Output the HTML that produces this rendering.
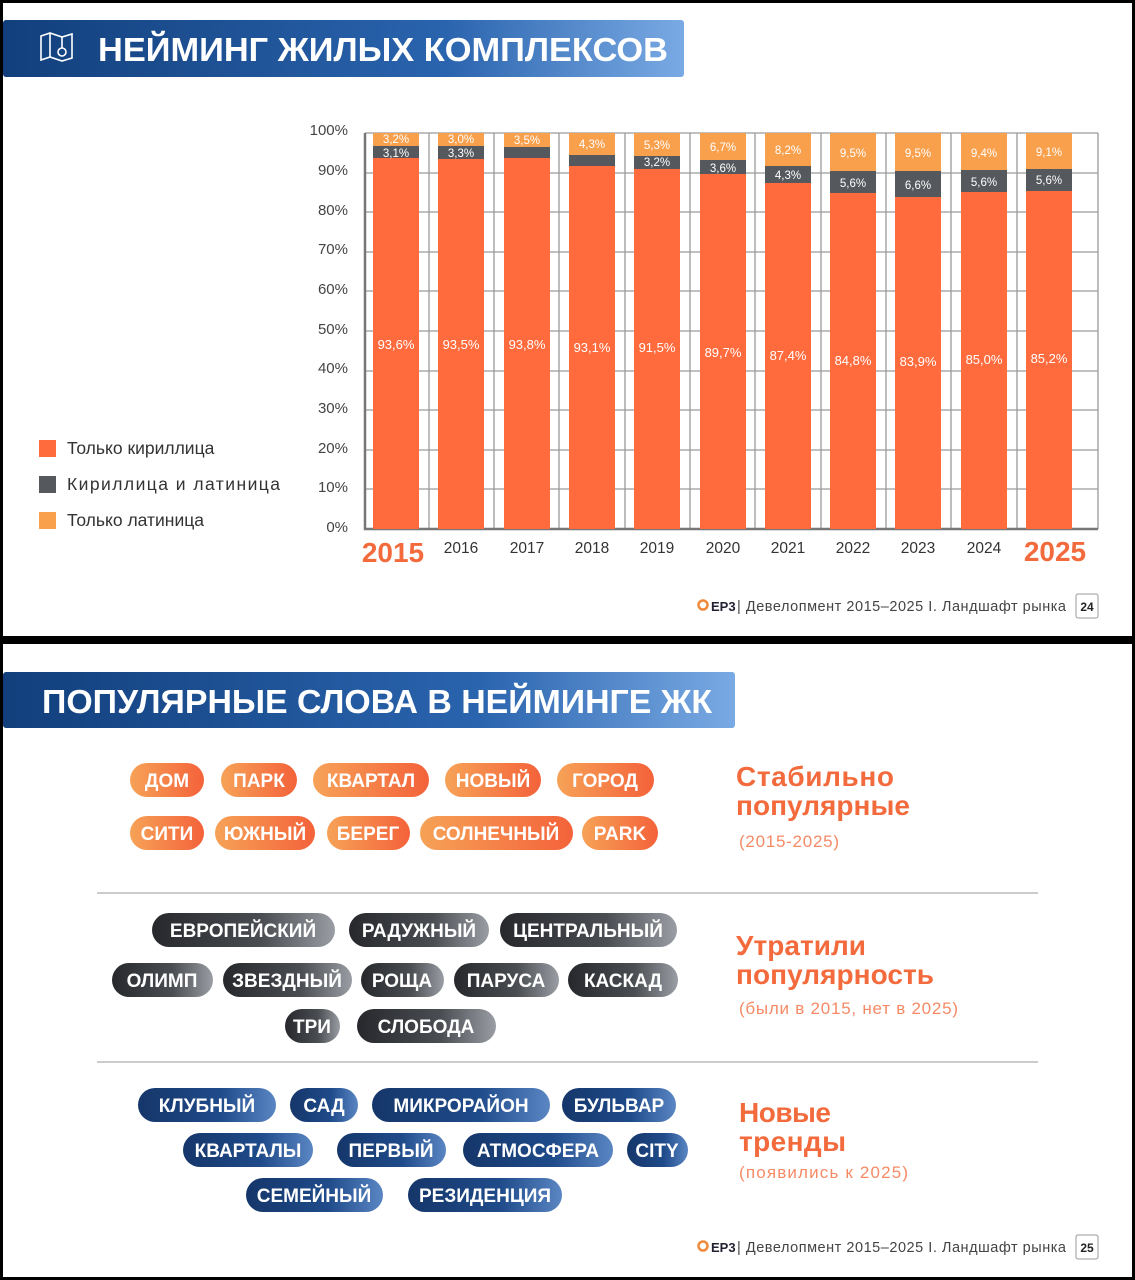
<!DOCTYPE html><html><head><meta charset="utf-8"><style>
html,body{margin:0;padding:0;background:#000}
svg{display:block}
text{font-family:"Liberation Sans",sans-serif}
</style></head><body>
<svg width="1135" height="1280" viewBox="0 0 1135 1280" xmlns="http://www.w3.org/2000/svg">
<defs>
<linearGradient id="tb" x1="0" x2="1" y1="0" y2="0"><stop offset="0" stop-color="#123f7c"/><stop offset="0.65" stop-color="#2a64ae"/><stop offset="1" stop-color="#7aaae4"/></linearGradient>
<linearGradient id="go" x1="0" x2="1"><stop offset="0" stop-color="#f6a257"/><stop offset="1" stop-color="#f4623a"/></linearGradient>
<linearGradient id="gg" x1="0" x2="1"><stop offset="0" stop-color="#26282c"/><stop offset="0.6" stop-color="#4a4d52"/><stop offset="1" stop-color="#9a9ea4"/></linearGradient>
<linearGradient id="gb" x1="0" x2="1"><stop offset="0" stop-color="#15366a"/><stop offset="0.6" stop-color="#1f4b8a"/><stop offset="1" stop-color="#5a86c4"/></linearGradient>
</defs>
<rect x="3" y="3" width="1129" height="633" fill="#fff"/>
<rect x="3" y="644" width="1129" height="633" fill="#fff"/>
<rect x="3" y="20" width="681" height="57" rx="3" fill="url(#tb)"/>
<g stroke="#fff" stroke-width="1.6" fill="none"><path d="M41 36 L50 33 L62 37 L72 34 L72 58 L62 61 L50 57 L41 60 Z"/><path d="M50 33 V57 M62 37 V48"/><circle cx="62" cy="52" r="4"/></g>
<text x="98" y="61" font-size="33" font-weight="bold" fill="#fff" textLength="570" lengthAdjust="spacingAndGlyphs">НЕЙМИНГ ЖИЛЫХ КОМПЛЕКСОВ</text>
<g stroke="#9a9a9a" stroke-width="1.3">
<line x1="365" x2="1098" y1="133" y2="133"/><line x1="365" x2="1098" y1="173" y2="173"/><line x1="365" x2="1098" y1="212" y2="212"/><line x1="365" x2="1098" y1="252" y2="252"/><line x1="365" x2="1098" y1="291" y2="291"/><line x1="365" x2="1098" y1="331" y2="331"/><line x1="365" x2="1098" y1="371" y2="371"/><line x1="365" x2="1098" y1="410" y2="410"/><line x1="365" x2="1098" y1="450" y2="450"/><line x1="365" x2="1098" y1="489" y2="489"/>
<line x1="429" x2="429" y1="133" y2="529"/><line x1="494" x2="494" y1="133" y2="529"/><line x1="559" x2="559" y1="133" y2="529"/><line x1="625" x2="625" y1="133" y2="529"/><line x1="690" x2="690" y1="133" y2="529"/><line x1="755" x2="755" y1="133" y2="529"/><line x1="821" x2="821" y1="133" y2="529"/><line x1="886" x2="886" y1="133" y2="529"/><line x1="951" x2="951" y1="133" y2="529"/><line x1="1017" x2="1017" y1="133" y2="529"/><line x1="1098" x2="1098" y1="133" y2="529"/>
</g>
<path d="M365 133 V529 H1098" stroke="#777" stroke-width="2.5" fill="none"/>
<g font-size="15" fill="#444" text-anchor="end">
<text x="348" y="135">100%</text><text x="348" y="175">90%</text><text x="348" y="215">80%</text><text x="348" y="254">70%</text><text x="348" y="294">60%</text><text x="348" y="334">50%</text><text x="348" y="373">40%</text><text x="348" y="413">30%</text><text x="348" y="453">20%</text><text x="348" y="492">10%</text><text x="348" y="532">0%</text>
</g>
<g>
<rect x="373" y="133" width="46" height="396" fill="#f9a04d"/><rect x="373" y="146" width="46" height="13" fill="#55585d"/><rect x="373" y="158" width="46" height="371" fill="#ff6b3d"/>
<rect x="438" y="133" width="46" height="396" fill="#f9a04d"/><rect x="438" y="146" width="46" height="13" fill="#55585d"/><rect x="438" y="159" width="46" height="370" fill="#ff6b3d"/>
<rect x="504" y="133" width="46" height="396" fill="#f9a04d"/><rect x="504" y="147" width="46" height="11" fill="#55585d"/><rect x="504" y="158" width="46" height="371" fill="#ff6b3d"/>
<rect x="569" y="133" width="46" height="396" fill="#f9a04d"/><rect x="569" y="155" width="46" height="11" fill="#55585d"/><rect x="569" y="166" width="46" height="363" fill="#ff6b3d"/>
<rect x="634" y="133" width="46" height="396" fill="#f9a04d"/><rect x="634" y="156" width="46" height="13" fill="#55585d"/><rect x="634" y="169" width="46" height="360" fill="#ff6b3d"/>
<rect x="700" y="133" width="46" height="396" fill="#f9a04d"/><rect x="700" y="160" width="46" height="15" fill="#55585d"/><rect x="700" y="174" width="46" height="355" fill="#ff6b3d"/>
<rect x="765" y="133" width="46" height="396" fill="#f9a04d"/><rect x="765" y="166" width="46" height="17" fill="#55585d"/><rect x="765" y="183" width="46" height="346" fill="#ff6b3d"/>
<rect x="830" y="133" width="46" height="396" fill="#f9a04d"/><rect x="830" y="171" width="46" height="22" fill="#55585d"/><rect x="830" y="193" width="46" height="336" fill="#ff6b3d"/>
<rect x="895" y="133" width="46" height="396" fill="#f9a04d"/><rect x="895" y="171" width="46" height="26" fill="#55585d"/><rect x="895" y="197" width="46" height="332" fill="#ff6b3d"/>
<rect x="961" y="133" width="46" height="396" fill="#f9a04d"/><rect x="961" y="170" width="46" height="22" fill="#55585d"/><rect x="961" y="192" width="46" height="337" fill="#ff6b3d"/>
<rect x="1026" y="133" width="46" height="396" fill="#f9a04d"/><rect x="1026" y="169" width="46" height="22" fill="#55585d"/><rect x="1026" y="191" width="46" height="338" fill="#ff6b3d"/>
</g>
<g font-size="11.5" fill="#fff" text-anchor="middle">
<text x="396" y="143">3,2%</text><text x="461" y="143">3,0%</text><text x="527" y="144">3,5%</text><text x="592" y="148">4,3%</text><text x="657" y="149">5,3%</text><text x="723" y="151">6,7%</text><text x="788" y="154">8,2%</text><text x="853" y="157">9,5%</text><text x="918" y="157">9,5%</text><text x="984" y="157">9,4%</text><text x="1049" y="156">9,1%</text>
<text x="396" y="157">3,1%</text><text x="461" y="157">3,3%</text><text x="657" y="166">3,2%</text><text x="723" y="172">3,6%</text><text x="788" y="179">4,3%</text><text x="853" y="187">5,6%</text><text x="918" y="189">6,6%</text><text x="984" y="186">5,6%</text><text x="1049" y="184">5,6%</text>
<g font-size="13"><text x="396" y="349">93,6%</text><text x="461" y="349">93,5%</text><text x="527" y="349">93,8%</text><text x="592" y="352">93,1%</text><text x="657" y="352">91,5%</text><text x="723" y="357">89,7%</text><text x="788" y="360">87,4%</text><text x="853" y="365">84,8%</text><text x="918" y="366">83,9%</text><text x="984" y="364">85,0%</text><text x="1049" y="363">85,2%</text></g>
</g>
<g font-size="15.5" fill="#333" text-anchor="middle">
<text x="461" y="553">2016</text><text x="527" y="553">2017</text><text x="592" y="553">2018</text><text x="657" y="553">2019</text><text x="723" y="553">2020</text><text x="788" y="553">2021</text><text x="853" y="553">2022</text><text x="918" y="553">2023</text><text x="984" y="553">2024</text>
</g>
<text x="393" y="562" font-size="28" font-weight="bold" fill="#f36b3d" text-anchor="middle">2015</text>
<text x="1055" y="561" font-size="28" font-weight="bold" fill="#f36b3d" text-anchor="middle">2025</text>
<rect x="39" y="440" width="17" height="17" fill="#ff6b3d"/><rect x="39" y="476" width="17" height="17" fill="#55585d"/><rect x="39" y="512" width="17" height="17" fill="#f9a04d"/>
<g font-size="17.5" fill="#333"><text x="67" y="454">Только кириллица</text><text x="67" y="490" textLength="213">Кириллица и латиница</text><text x="67" y="526">Только латиница</text></g>
<circle cx="703" cy="605" r="4.5" fill="none" stroke="#f08a3c" stroke-width="2.5"/>
<text x="711" y="611" font-size="13" font-weight="bold" fill="#223">ЕР3</text>
<text x="737" y="611" font-size="14.5" fill="#444" textLength="329">| Девелопмент 2015–2025 І. Ландшафт рынка</text>
<rect x="1076" y="594" width="22" height="24" rx="2" fill="#fff" stroke="#999"/>
<text x="1087" y="611" font-size="12" font-weight="bold" fill="#222" text-anchor="middle">24</text>
<rect x="3" y="672" width="732" height="56" rx="3" fill="url(#tb)"/>
<text x="42" y="713" font-size="33" font-weight="bold" fill="#fff" textLength="670" lengthAdjust="spacingAndGlyphs">ПОПУЛЯРНЫЕ СЛОВА В НЕЙМИНГЕ ЖК</text>
<g font-size="19" font-weight="bold" fill="#fff" text-anchor="middle">
<g>
<rect x="130" y="763" width="74" height="34" rx="17" fill="url(#go)"/><text x="167" y="787">ДОМ</text>
<rect x="221" y="763" width="76" height="34" rx="17" fill="url(#go)"/><text x="259" y="787">ПАРК</text>
<rect x="313" y="763" width="116" height="34" rx="17" fill="url(#go)"/><text x="371" y="787">КВАРТАЛ</text>
<rect x="445" y="763" width="96" height="34" rx="17" fill="url(#go)"/><text x="493" y="787">НОВЫЙ</text>
<rect x="557" y="763" width="97" height="34" rx="17" fill="url(#go)"/><text x="605" y="787">ГОРОД</text>
<rect x="130" y="816" width="74" height="34" rx="17" fill="url(#go)"/><text x="167" y="840">СИТИ</text>
<rect x="215" y="816" width="100" height="34" rx="17" fill="url(#go)"/><text x="265" y="840">ЮЖНЫЙ</text>
<rect x="327" y="816" width="83" height="34" rx="17" fill="url(#go)"/><text x="368" y="840">БЕРЕГ</text>
<rect x="420" y="816" width="153" height="34" rx="17" fill="url(#go)"/><text x="496" y="840">СОЛНЕЧНЫЙ</text>
<rect x="582" y="816" width="76" height="34" rx="17" fill="url(#go)"/><text x="620" y="840">PARK</text>
</g>
<g>
<rect x="152" y="913" width="183" height="34" rx="17" fill="url(#gg)"/><text x="243" y="937">ЕВРОПЕЙСКИЙ</text>
<rect x="349" y="913" width="140" height="34" rx="17" fill="url(#gg)"/><text x="419" y="937">РАДУЖНЫЙ</text>
<rect x="500" y="913" width="177" height="34" rx="17" fill="url(#gg)"/><text x="588" y="937">ЦЕНТРАЛЬНЫЙ</text>
<rect x="112" y="963" width="101" height="34" rx="17" fill="url(#gg)"/><text x="162" y="987">ОЛИМП</text>
<rect x="223" y="963" width="129" height="34" rx="17" fill="url(#gg)"/><text x="287" y="987">ЗВЕЗДНЫЙ</text>
<rect x="361" y="963" width="83" height="34" rx="17" fill="url(#gg)"/><text x="402" y="987">РОЩА</text>
<rect x="454" y="963" width="105" height="34" rx="17" fill="url(#gg)"/><text x="506" y="987">ПАРУСА</text>
<rect x="568" y="963" width="110" height="34" rx="17" fill="url(#gg)"/><text x="623" y="987">КАСКАД</text>
<rect x="285" y="1009" width="55" height="34" rx="17" fill="url(#gg)"/><text x="312" y="1033">ТРИ</text>
<rect x="357" y="1009" width="139" height="34" rx="17" fill="url(#gg)"/><text x="426" y="1033">СЛОБОДА</text>
</g>
<g>
<rect x="138" y="1088" width="138" height="34" rx="17" fill="url(#gb)"/><text x="207" y="1112">КЛУБНЫЙ</text>
<rect x="290" y="1088" width="68" height="34" rx="17" fill="url(#gb)"/><text x="324" y="1112">САД</text>
<rect x="372" y="1088" width="178" height="34" rx="17" fill="url(#gb)"/><text x="461" y="1112">МИКРОРАЙОН</text>
<rect x="562" y="1088" width="114" height="34" rx="17" fill="url(#gb)"/><text x="619" y="1112">БУЛЬВАР</text>
<rect x="183" y="1133" width="130" height="34" rx="17" fill="url(#gb)"/><text x="248" y="1157">КВАРТАЛЫ</text>
<rect x="337" y="1133" width="109" height="34" rx="17" fill="url(#gb)"/><text x="391" y="1157">ПЕРВЫЙ</text>
<rect x="463" y="1133" width="150" height="34" rx="17" fill="url(#gb)"/><text x="538" y="1157">АТМОСФЕРА</text>
<rect x="627" y="1133" width="61" height="34" rx="17" fill="url(#gb)"/><text x="657" y="1157">CITY</text>
<rect x="246" y="1178" width="137" height="34" rx="17" fill="url(#gb)"/><text x="314" y="1202">СЕМЕЙНЫЙ</text>
<rect x="408" y="1178" width="154" height="34" rx="17" fill="url(#gb)"/><text x="485" y="1202">РЕЗИДЕНЦИЯ</text>
</g>
</g>
<line x1="97" x2="1038" y1="893" y2="893" stroke="#ccc" stroke-width="2"/>
<line x1="97" x2="1038" y1="1062" y2="1062" stroke="#ccc" stroke-width="2"/>
<g fill="#f36b3d" font-size="28" font-weight="bold">
<text x="736" y="786" textLength="158">Стабильно</text><text x="736" y="815" textLength="174">популярные</text>
<text x="736" y="955" textLength="130">Утратили</text><text x="736" y="984" textLength="198">популярность</text>
<text x="739" y="1122" textLength="92">Новые</text><text x="739" y="1151" textLength="107">тренды</text>
</g>
<g fill="#f58a65" font-size="17">
<text x="739" y="847" textLength="100">(2015-2025)</text>
<text x="739" y="1014" textLength="219">(были в 2015, нет в 2025)</text>
<text x="739" y="1178" textLength="169">(появились к 2025)</text>
</g>
<circle cx="703" cy="1246" r="4.5" fill="none" stroke="#f08a3c" stroke-width="2.5"/>
<text x="711" y="1252" font-size="13" font-weight="bold" fill="#223">ЕР3</text>
<text x="737" y="1252" font-size="14.5" fill="#444" textLength="329">| Девелопмент 2015–2025 І. Ландшафт рынка</text>
<rect x="1076" y="1235" width="22" height="24" rx="2" fill="#fff" stroke="#999"/>
<text x="1087" y="1252" font-size="12" font-weight="bold" fill="#222" text-anchor="middle">25</text>
</svg>
</body></html>
